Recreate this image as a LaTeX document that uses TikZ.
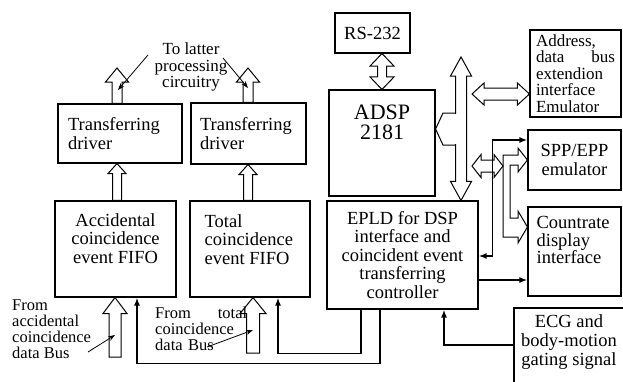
\documentclass[tikz,border=0pt]{standalone}
\usepackage{fontspec}
\setmainfont{Liberation Serif}
\usetikzlibrary{positioning, calc, arrows.meta}

\tikzset{
  blk/.style={draw, line width=1.1pt, inner sep=0pt},
  lbl/.style={inner sep=0pt, align=center, font=\fontsize{18.5pt}{18.5pt}\selectfont},
  note/.style={inner sep=0pt, align=left, font=\fontsize{16.5pt}{16pt}\selectfont},
  sig/.style={line width=1.6pt},
  ptr/.style={line width=0.8pt, -{Stealth[length=7pt,width=5pt]}},
  % hollow block arrow: shaft half width / head half width / head length
  hol/.style args={#1/#2/#3}{draw, fill=white, line width=1pt, to path={
      let \p1=(\tikztostart), \p2=(\tikztotarget),
          \n1={atan2(\y2-\y1,\x2-\x1)}, \n2={veclen(\x2-\x1,\y2-\y1)} in
      {[shift={(\p1)}, rotate=\n1]
       (0,#1) -- (\n2-#3,#1) -- (\n2-#3,#2) -- (\n2,0) -- (\n2-#3,-#2)
       -- (\n2-#3,-#1) -- (0,-#1) -- cycle}}},
  dhol/.style args={#1/#2/#3}{draw, fill=white, line width=1pt, to path={
      let \p1=(\tikztostart), \p2=(\tikztotarget),
          \n1={atan2(\y2-\y1,\x2-\x1)}, \n2={veclen(\x2-\x1,\y2-\y1)} in
      {[shift={(\p1)}, rotate=\n1]
       (0,0) -- (#3,#2) -- (#3,#1) -- (\n2-#3,#1) -- (\n2-#3,#2) -- (\n2,0)
       -- (\n2-#3,-#2) -- (\n2-#3,-#1) -- (#3,-#1) -- (#3,-#2) -- cycle}}}
}

\begin{document}
\begin{tikzpicture}[x=1pt, y=-1pt, >={Latex[length=8pt,width=6pt]}]
  \useasboundingbox (0,0) rectangle (623,381);
  \clip (0,0) rectangle (623,381);

  % blocks
  \node[blk, lbl, align=left, text width=104pt, minimum width=124pt, minimum height=59pt] (drvA) at (120,133.5) {Transferring\\driver};
  \node[blk, lbl, align=left, text width=97pt, minimum width=115pt, minimum height=61pt] (drvB) at (248.5,133.5) {Transferring\\driver};
  \node[blk, minimum width=121pt, minimum height=96pt] (acc) at (115.5,249) {};
  \node[lbl, below=13pt of acc.north] (accL) {Accidental\\coincidence\\event FIFO};
  \node[blk, minimum width=120pt, minimum height=96pt] (tot) at (250,249) {};
  \node[lbl, align=left, below right=14pt and 15pt of tot.north west] (totL) {Total\\coincidence\\event FIFO};
  \node[blk, lbl, minimum width=75pt, minimum height=40pt] (rs) at (372.5,33) {RS-232};
  \node[blk, minimum width=106pt, minimum height=106pt] (adsp) at (382,143) {};
  \node[lbl, font=\fontsize{22pt}{20pt}\selectfont, below=15pt of adsp.north] (adspL) {ADSP\\2181};
  \node[blk, lbl, minimum width=151pt, minimum height=108pt] (epld) at (402.5,255) {EPLD for DSP\\interface and\\coincident event\\transferring\\controller};
  \node[blk, lbl, align=left, font=\fontsize{17pt}{16.5pt}\selectfont, text width=79pt, minimum width=91pt, minimum height=87pt] (addr) at (575.5,73.5) {Address,\\data\hfill bus\\extendion\\interface\\Emulator};
  \node[blk, lbl, minimum width=93pt, minimum height=60pt] (spp) at (574.5,160) {SPP/EPP\\emulator};
  \node[blk, minimum width=93pt, minimum height=89pt] (cnt) at (574.5,251.5) {};
  \node[lbl, align=left, font=\fontsize{18.5pt}{17.5pt}\selectfont, below right=10pt and 9pt of cnt.north west] (cntL) {Countrate\\display\\interface};
  \node[blk, minimum width=110pt, minimum height=92pt] (ecg) at (569,354) {};
  \node[lbl, font=\fontsize{18.5pt}{19pt}\selectfont, below=7pt of ecg.north] (ecgL) {ECG and\\body-motion\\gating signal};

  \coordinate (outA) at (117,68);
  \coordinate (outB) at (248,68);
  \coordinate (inA) at (115,357);
  \coordinate (inB) at (253,353);
  \coordinate (busT) at (461,57);
  \coordinate (adrL) at (472,94);
  \coordinate (sppL) at (472,166);
  \coordinate (forkL) at (503,166);
  \coordinate (sppTip) at (spp.west);
  \coordinate (cntTip) at ([yshift=24.5pt]cnt.west);

  % hollow buses
  \draw[hol=5/11.5/14] (outA |- drvA.north) to (outA);
  \draw[hol=5/11.5/14] (outB |- drvB.north) to (outB);
  \draw[hol=4.5/9/10] (outA |- acc.north) to (outA |- drvA.south);
  \draw[hol=4.5/9/10] (outB |- tot.north) to (outB |- drvB.south);
  \draw[hol=6/12/16] (inA) to (inA |- acc.south);
  \draw[hol=6.5/13/16] (inB) to (inB |- tot.south);
  \draw[dhol=4.5/12/12.5] (adsp.north |- rs.south) to (adsp.north);
  \draw[dhol=5.5/10.5/19] (busT) to (busT |- epld.north);
  \fill[white] (441,114) rectangle (456.5,144);
  \draw[line width=1pt] (455.5,113) -- (443,113) -- (adsp.east |- 0,129) -- (443,145) -- (455.5,145);
  \draw[dhol=6/11/12] (adrL) to (adrL -| addr.west);
  \draw[line width=1pt, fill=white] (503,155) -- (518,155) -- (518,148) -- (sppTip) -- (518,172)
    -- (518,165) -- (510,165) -- (510,218) -- (518,218) -- (518,211) -- (cntTip)
    -- (518,243) -- (518,237) -- (503,237) -- cycle;
  \draw[dhol=6/11.5/9] (sppL) to (forkL);

  % notes
  \node[lbl, font=\fontsize{17pt}{16.5pt}\selectfont] (lat) at (191,67) {To latter\\processing\\circuitry};
  \node[note, anchor=north west] (fromA) at (12,299) {From\\accidental\\coincidence\\data Bus};
  \node[note, anchor=north west, text width=92pt] (fromB) at (155,307) {From\hfill total\\coincidence\\data Bus};

  % signal lines
  \draw[sig, ->] ([xshift=-22.5pt]epld.south) -- ++(0,54) -| ([xshift=21.5pt]acc.south);
  \draw[sig, ->] ([xshift=-41.5pt]epld.south) -- ++(0,44) -| ([xshift=28pt]tot.south);
  \coordinate (ecgOut) at ([yshift=9pt]ecg.west);
  \draw[sig, ->] (ecgOut) -| ([xshift=41.5pt]epld.south);
  \coordinate (cntOut) at ([yshift=-25pt]epld.east);
  \draw[sig, ->] (cntOut) -- (cntOut -| cnt.west);
  \coordinate (sppIn) at ([yshift=20pt]spp.west);
  \draw[sig, <->] ([yshift=-1pt]epld.east) -- ++(14,0) |- (sppIn);

  % pointers
  \coordinate (pA1) at (148,55);  \coordinate (pA2) at (118,90);
  \coordinate (pB1) at (223,58);  \coordinate (pB2) at (248,88);
  \coordinate (pC1) at (88,352);  \coordinate (pC2) at (115,335);
  \coordinate (pD1) at (207,347); \coordinate (pD2) at (253,330);
  \draw[ptr] (pA1) -- (pA2);
  \draw[ptr] (pB1) -- (pB2);
  \draw[ptr] (pC1) -- (pC2);
  \draw[ptr] (pD1) -- (pD2);
\end{tikzpicture}
\end{document}
